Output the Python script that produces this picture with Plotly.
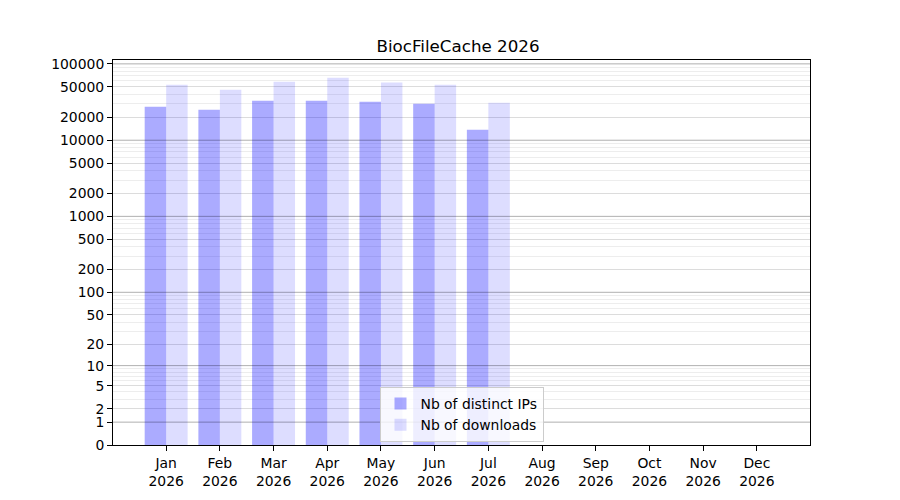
import plotly.graph_objects as go

# monthly stats (Aug-Dec have no data yet)
months = ["Jan", "Feb", "Mar", "Apr", "May", "Jun", "Jul", "Aug", "Sep", "Oct", "Nov", "Dec"]
year = "2026"
nb_ips = [27500, 25100, 33000, 33000, 32000, 30100, 13700, None, None, None, None, None]
nb_downloads = [53500, 46000, 58600, 66100, 56900, 53500, 31000, None, None, None, None, None]

# y axis shows log10(1 + n), labelled with n
ytick_values = [0, 1, 2, 5, 10, 20, 50, 100, 200, 500, 1000, 2000, 5000, 10000, 20000, 50000, 100000]
major_grid = [1, 10, 100, 1000, 10000, 100000]

labels = [m + "<br>" + year for m in months]
shift = lambda vals: [None if v is None else v + 1 for v in vals]

minor_vals = []
for p in range(0, 5):
    for d in range(2, 10):
        minor_vals.append(d * 10 ** p + 1)

fig = go.Figure()
fig.add_trace(go.Bar(x=labels, y=shift(nb_ips), name="Nb of distinct IPs",
                     marker=dict(color="rgba(0,0,255,0.33)", line=dict(width=0))))
fig.add_trace(go.Bar(x=labels, y=shift(nb_downloads), name="Nb of downloads",
                     marker=dict(color="rgba(0,0,255,0.135)", line=dict(width=0))))

# darker lines for each decade
for v in major_grid:
    fig.add_hline(y=v + 1, line=dict(color="rgba(0,0,0,0.25)", width=1), layer="above")

fig.update_layout(
    width=900, height=500,
    paper_bgcolor="white", plot_bgcolor="white",
    font=dict(family="DejaVu Sans", size=13.9, color="black"),
    title=dict(text="BiocFileCache " + year, x=0.5, xanchor="center", y=0.924, yanchor="middle",
               font=dict(size=16.7, color="black")),
    margin=dict(l=105, r=98, t=52, b=63),
    barmode="group", bargap=0.2, bargroupgap=0,
    showlegend=True,
    legend=dict(x=0.5, xanchor="center", y=0.079, yanchor="middle",
                bgcolor="rgba(255,255,255,0.8)", bordercolor="#cccccc", borderwidth=1,
                font=dict(size=13.9), tracegroupgap=0),
)
fig.update_xaxes(
    type="category", range=[-0.99, 11.99],
    showline=True, mirror=True, linecolor="black", linewidth=1,
    ticks="outside", ticklen=5, tickcolor="black", showgrid=False,
)
fig.update_yaxes(
    type="log", range=[0, 5.052],
    tickvals=[t + 1 for t in ytick_values], ticktext=[str(t) for t in ytick_values],
    showline=True, mirror=True, linecolor="black", linewidth=1,
    ticks="outside", ticklen=5, tickcolor="black",
    showgrid=True, gridcolor="rgba(0,0,0,0.07)", gridwidth=1, zeroline=False,
    minor=dict(tickvals=minor_vals, showgrid=True, gridcolor="rgba(0,0,0,0.07)", ticks=""),
)

fig.write_html("out.html")
